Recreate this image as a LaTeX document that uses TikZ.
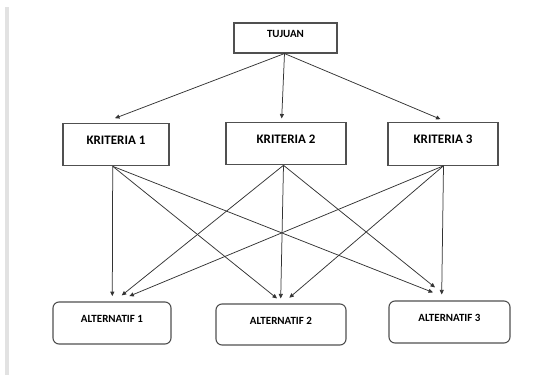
\documentclass[tikz,border=0pt]{standalone}
\usepackage{fontspec}
\setmainfont{Carlito}
\usetikzlibrary{calc,arrows.meta}
\definecolor{boxline}{HTML}{505050}
\definecolor{arrline}{HTML}{333333}
\definecolor{sidebar}{HTML}{E2E2E2}
\tikzset{
  basebox/.style={draw=boxline, line width=1.1pt, fill=white, inner sep=0pt,
    text height=10pt, text depth=10pt, font=\bfseries, text=black},
  goalbox/.style={basebox, minimum width=103pt, minimum height=30pt, font=\bfseries\fontsize{11}{12}\selectfont},
  critbox/.style={basebox, minimum height=42.5pt, font=\bfseries\fontsize{13}{14}\selectfont},
  altbox/.style={basebox, rounded corners=6pt, minimum height=42pt, font=\bfseries\fontsize{11}{12}\selectfont},
  conn/.style={draw=arrline, line width=0.75pt, -{Triangle[length=4.5pt,width=4pt]}}
}
\begin{document}
\begin{tikzpicture}[x=1pt, y=-1pt]
\useasboundingbox (0,0) rectangle (558,385);
\fill[sidebar] (5,7) rectangle (9,375);

\node[goalbox] (T) at (285.5,38) {TUJUAN};

\node[critbox, minimum width=106pt] (K1) at (116,144.5) {KRITERIA 1};
\node[critbox, minimum width=120pt] (K2) at (286,143.5) {KRITERIA 2};
\node[critbox, minimum width=110pt] (K3) at (443,144) {KRITERIA 3};

\node[altbox, minimum width=118pt] (A1) at (112,323) {ALTERNATIF 1};
\node[altbox, minimum width=130pt, minimum height=41pt] (A2) at (281,324.5) {ALTERNATIF 2};
\node[altbox, minimum width=121pt] (A3) at (449.5,322) {ALTERNATIF 3};

% goal to criteria
\draw[conn] ($(T.south)+(-1,0)$) -- ($(K1.north)+(-1,-4.5)$);
\draw[conn] ($(T.south)+(-1,0)$) -- ($(K2.north)+(-4.3,-3.2)$);
\draw[conn] ($(T.south)+(-1,0)$) -- ($(K3.north)+(-2.5,-3)$);

% criteria 1 to alternatives
\draw[conn] ($(K1.south)+(-3.3,0)$) -- ($(A1.north)+(0.3,-5.3)$);
\draw[conn] ($(K1.south)+(-3.3,0)$) -- ($(A2.north)+(-4,-5)$);
\draw[conn] ($(K1.south)+(-3.3,0)$) -- ($(A3.north)+(-16.5,-8)$);

% criteria 2 to alternatives
\draw[conn] ($(K2.south)+(-2.5,0)$) -- ($(A1.north)+(9.7,-6)$);
\draw[conn] ($(K2.south)+(-2.5,0)$) -- ($(A2.north)+(-0.3,-5)$);
\draw[conn] ($(K2.south)+(-2.5,0)$) -- ($(A3.north)+(-14.5,-13)$);

% criteria 3 to alternatives
\draw[conn] ($(K3.south)+(0.5,0)$) -- ($(A1.north)+(17.3,-5.3)$);
\draw[conn] ($(K3.south)+(0.5,0)$) -- ($(A2.north)+(8.3,-5.7)$);
\draw[conn] ($(K3.south)+(0.5,0)$) -- ($(A3.north)+(-7.8,-6)$);
\end{tikzpicture}
\end{document}
